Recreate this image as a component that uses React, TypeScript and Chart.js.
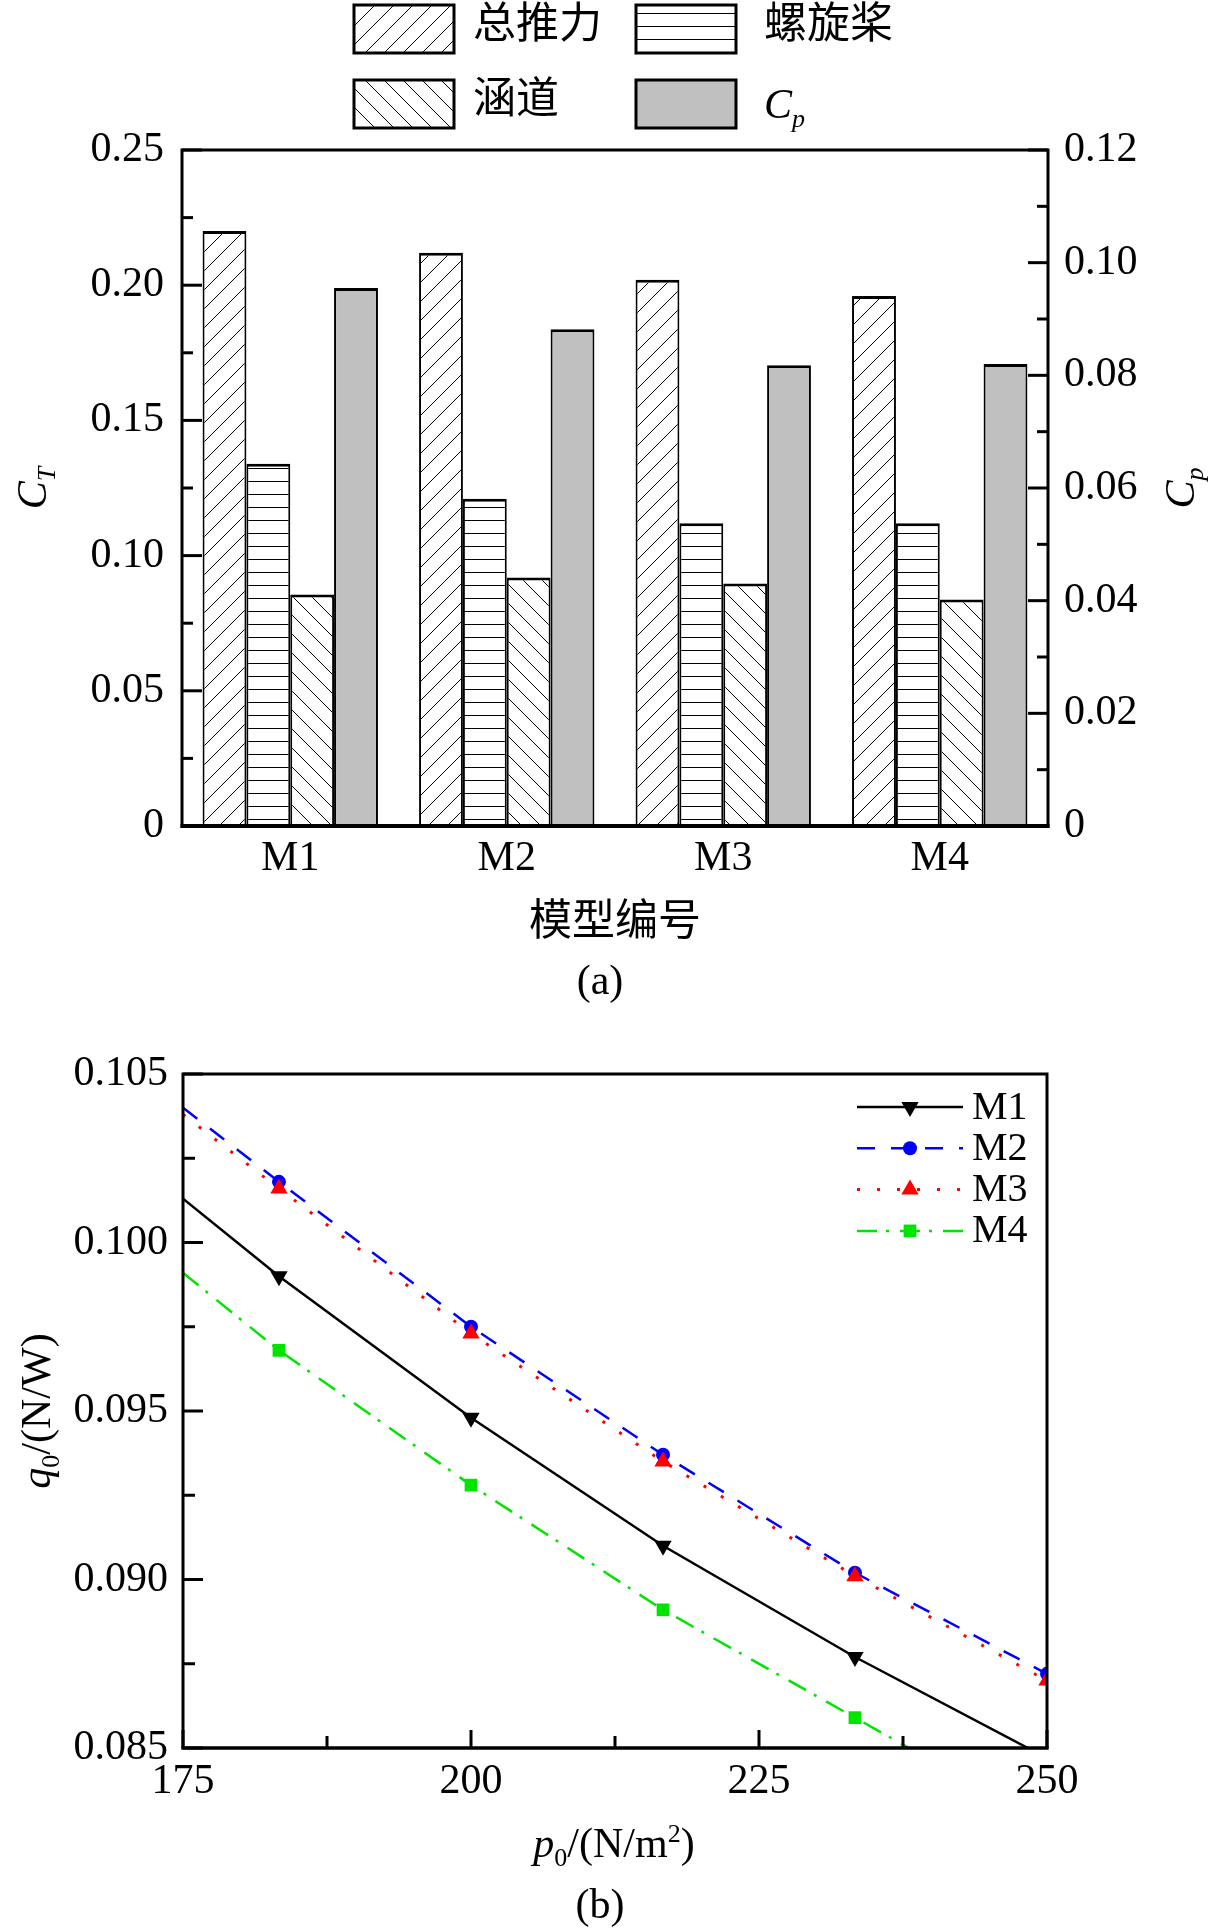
import React, { useEffect, useRef } from 'react';
import { Chart, registerables } from 'chart.js';

Chart.register(...registerables);

const FONT = '"Liberation Serif", "Times New Roman", "Noto Sans CJK SC", serif';

// ---- (a) thrust and power coefficients per model ----
const MODELS = ['M1', 'M2', 'M3', 'M4'];
const CT_TOTAL = [0.22, 0.212, 0.202, 0.196];
const CT_PROP = [0.134, 0.121, 0.112, 0.112];
const CT_DUCT = [0.0856, 0.0919, 0.0897, 0.0838];
const CP = [0.0955, 0.0882, 0.0818, 0.082];

const CT_TICKS = [0, 0.05, 0.1, 0.15, 0.2, 0.25];
const CT_LABELS = ['0', '0.05', '0.10', '0.15', '0.20', '0.25'];
const CT_MINOR = [0.025, 0.075, 0.125, 0.175, 0.225];
const CP_TICKS = [0, 0.02, 0.04, 0.06, 0.08, 0.1, 0.12];
const CP_LABELS = ['0', '0.02', '0.04', '0.06', '0.08', '0.10', '0.12'];
const CP_MINOR = [0.01, 0.03, 0.05, 0.07, 0.09, 0.11];

// ---- (b) q0 against p0 ----
const P0 = [175, 183.33, 200, 216.67, 233.33, 250];
const Q_M1 = [0.1013, 0.099, 0.0948, 0.091, 0.0877, 0.0847];
const Q_M2 = [0.104, 0.1018, 0.0975, 0.0937, 0.0902, 0.0872];
const Q_M3 = [0.1038, 0.1016, 0.0973, 0.0935, 0.0901, 0.087];
const Q_M4 = [0.0991, 0.0968, 0.0928, 0.0891, 0.0859, 0.0827];

const P_TICKS = [175, 200, 225, 250];
const P_LABELS = ['175', '200', '225', '250'];
const P_MINOR = [187.5, 212.5, 237.5];
const Q_TICKS = [0.085, 0.09, 0.095, 0.1, 0.105];
const Q_LABELS = ['0.085', '0.090', '0.095', '0.100', '0.105'];
const Q_MINOR = [0.0875, 0.0925, 0.0975, 0.1025];

type Run = { t: string; it?: boolean; sub?: boolean; sup?: boolean };

function drawRich(ctx: CanvasRenderingContext2D, runs: Run[], x: number, y: number, size: number, rot = 0, align = 'center') {
  ctx.save();
  ctx.translate(x, y);
  ctx.rotate(rot);
  ctx.fillStyle = '#000';
  ctx.textAlign = 'left';
  ctx.textBaseline = 'alphabetic';
  const font = (r: Run) => `${r.it ? 'italic ' : ''}${r.sub || r.sup ? Math.round(size * 0.62) : size}px ${FONT}`;
  let total = 0;
  const ws = runs.map((r) => {
    ctx.font = font(r);
    const w = ctx.measureText(r.t).width;
    total += w;
    return w;
  });
  let cx = align === 'center' ? -total / 2 : 0;
  runs.forEach((r, i) => {
    ctx.font = font(r);
    const dy = r.sub ? size * 0.22 : r.sup ? -size * 0.36 : 0;
    ctx.fillText(r.t, cx, size * 0.33 + dy);
    cx += ws[i];
  });
  ctx.restore();
}

function hatch(kind: string): any {
  const c = document.createElement('canvas');
  const s = kind === 'horiz' ? 13 : 19;
  c.width = kind === 'horiz' ? 8 : s;
  c.height = s;
  const g = c.getContext('2d');
  if (!g) return '#fff';
  g.fillStyle = '#fff';
  g.fillRect(0, 0, c.width, c.height);
  g.strokeStyle = '#000';
  g.lineWidth = 1;
  g.beginPath();
  if (kind === 'horiz') {
    g.moveTo(0, 0.5);
    g.lineTo(c.width, 0.5);
  } else {
    for (const k of [-s, 0, s]) {
      if (kind === 'fwd') {
        g.moveTo(k, s);
        g.lineTo(k + s, 0);
      } else {
        g.moveTo(k, 0);
        g.lineTo(k + s, s);
      }
    }
  }
  g.stroke();
  return g.createPattern(c, 'repeat') || '#fff';
}

function drawMarker(ctx: CanvasRenderingContext2D, style: string, rotDeg: number, x: number, y: number, r: number, color: string) {
  ctx.fillStyle = color;
  ctx.beginPath();
  if (style === 'circle') {
    ctx.arc(x, y, r, 0, Math.PI * 2);
  } else if (style === 'rect') {
    const s = r * Math.SQRT1_2;
    ctx.rect(x - s, y - s, 2 * s, 2 * s);
  } else {
    let a = (rotDeg * Math.PI) / 180;
    for (let k = 0; k < 3; k++) {
      const px = x + Math.sin(a) * r;
      const py = y - Math.cos(a) * r;
      if (k === 0) ctx.moveTo(px, py);
      else ctx.lineTo(px, py);
      a += (2 * Math.PI) / 3;
    }
    ctx.closePath();
  }
  ctx.fill();
}

type TickSpec = { id: string; side: string; major: number[]; minor: number[]; majorLen: number; minorLen: number };

// inward tick marks plus the closed frame round the plot area
function frameTicks(specs: TickSpec[], bottomWidth: number) {
  return {
    id: 'frameTicks',
    afterDatasetsDraw(chart: any) {
      const { ctx, chartArea: a } = chart;
      ctx.save();
      ctx.strokeStyle = '#000';
      ctx.lineWidth = 3;
      for (const s of specs) {
        const scale = chart.scales[s.id];
        const put = (v: number, len: number) => {
          const p = scale.getPixelForValue(v);
          ctx.beginPath();
          if (s.side === 'left') {
            ctx.moveTo(a.left, p);
            ctx.lineTo(a.left + len, p);
          } else if (s.side === 'right') {
            ctx.moveTo(a.right, p);
            ctx.lineTo(a.right - len, p);
          } else {
            ctx.moveTo(p, a.bottom);
            ctx.lineTo(p, a.bottom - len);
          }
          ctx.stroke();
        };
        s.major.forEach((v) => put(v, s.majorLen));
        s.minor.forEach((v) => put(v, s.minorLen));
      }
      ctx.strokeRect(a.left, a.top, a.right - a.left, a.bottom - a.top);
      ctx.lineWidth = bottomWidth;
      ctx.beginPath();
      ctx.moveTo(a.left - 1.5, a.bottom);
      ctx.lineTo(a.right + 1.5, a.bottom);
      ctx.stroke();
      ctx.restore();
    },
  };
}

const tickFont = { family: FONT, size: 42 };

const BarPanel: React.FC = () => {
  const ref = useRef<HTMLCanvasElement | null>(null);

  useEffect(() => {
    if (!ref.current) return;
    const fills = [hatch('fwd'), hatch('horiz'), hatch('back'), '#c0c0c0'];

    const barLegend = {
      id: 'barLegend',
      afterDraw(chart: any) {
        const ctx = chart.ctx;
        const boxX = [354, 636];
        const boxY = [5, 80];
        const textX = [473, 764];
        chart.data.datasets.forEach((ds: any, i: number) => {
          const col = i % 2;
          const row = Math.floor(i / 2);
          ctx.save();
          ctx.fillStyle = ds.backgroundColor;
          ctx.fillRect(boxX[col], boxY[row], 100, 48);
          ctx.strokeStyle = '#000';
          ctx.lineWidth = 3;
          ctx.strokeRect(boxX[col], boxY[row], 100, 48);
          ctx.restore();
          const cy = boxY[row] + 24;
          if (ds.label === 'Cp') {
            drawRich(ctx, [{ t: 'C', it: true }, { t: 'p', it: true, sub: true }], textX[col], cy, 42, 0, 'left');
          } else {
            ctx.save();
            ctx.fillStyle = '#000';
            ctx.font = `43px ${FONT}`;
            ctx.textBaseline = 'middle';
            ctx.fillText(ds.label, textX[col], cy - 2);
            ctx.restore();
          }
        });
        // axis titles and panel tag
        drawRich(ctx, [{ t: 'C', it: true }, { t: 'T', it: true, sub: true }], 32, 488, 42, -Math.PI / 2);
        drawRich(ctx, [{ t: 'C', it: true }, { t: 'p', it: true, sub: true }], 1180, 488, 42, -Math.PI / 2);
        drawRich(ctx, [{ t: '模型编号' }], 615, 921, 43);
        drawRich(ctx, [{ t: '(a)' }], 600, 980, 42);
      },
    };

    const common = { borderColor: '#000', borderWidth: { top: 3, left: 2, right: 2, bottom: 0 }, categoryPercentage: 0.81, barPercentage: 1 };

    const chart = new Chart(ref.current, {
      type: 'bar',
      data: {
        labels: MODELS,
        datasets: [
          { label: '总推力', data: CT_TOTAL, yAxisID: 'y', backgroundColor: fills[0], ...common },
          { label: '螺旋桨', data: CT_PROP, yAxisID: 'y', backgroundColor: fills[1], ...common },
          { label: '涵道', data: CT_DUCT, yAxisID: 'y', backgroundColor: fills[2], ...common },
          { label: 'Cp', data: CP, yAxisID: 'y1', backgroundColor: fills[3], ...common },
        ] as any,
      },
      options: {
        responsive: false,
        animation: false,
        events: [],
        layout: { padding: { top: 150, left: 0, right: 0, bottom: 0 } },
        plugins: { legend: { display: false }, tooltip: { enabled: false } },
        scales: {
          x: {
            type: 'category',
            grid: { display: false, drawTicks: false },
            border: { display: false },
            ticks: { color: '#000', font: tickFont, padding: 8 },
            afterFit: (s: any) => {
              s.height = 184;
            },
          },
          y: {
            position: 'left',
            min: 0,
            max: 0.25,
            grid: { display: false, drawTicks: false },
            border: { display: false },
            afterBuildTicks: (s: any) => {
              s.ticks = CT_TICKS.map((v) => ({ value: v }));
            },
            ticks: { color: '#000', font: tickFont, padding: 18, callback: (_v: any, i: number) => CT_LABELS[i] },
            afterFit: (s: any) => {
              s.width = 182;
            },
          },
          y1: {
            position: 'right',
            min: 0,
            max: 0.12,
            grid: { display: false, drawTicks: false },
            border: { display: false },
            afterBuildTicks: (s: any) => {
              s.ticks = CP_TICKS.map((v) => ({ value: v }));
            },
            ticks: { color: '#000', font: tickFont, padding: 16, callback: (_v: any, i: number) => CP_LABELS[i] },
            afterFit: (s: any) => {
              s.width = 165;
            },
          },
        },
      } as any,
      plugins: [
        frameTicks(
          [
            { id: 'y', side: 'left', major: CT_TICKS, minor: CT_MINOR, majorLen: 20, minorLen: 11 },
            { id: 'y1', side: 'right', major: CP_TICKS, minor: CP_MINOR, majorLen: 20, minorLen: 11 },
          ],
          4
        ),
        barLegend,
      ],
    });

    return () => chart.destroy();
  }, []);

  return <canvas ref={ref} width={1213} height={1010} style={{ position: 'absolute', left: 0, top: 0, width: 1213, height: 1010 }} />;
};

const LinePanel: React.FC = () => {
  const ref = useRef<HTMLCanvasElement | null>(null);

  useEffect(() => {
    if (!ref.current) return;

    const lineLegend = {
      id: 'lineLegend',
      afterDraw(chart: any) {
        const ctx = chart.ctx;
        chart.data.datasets.forEach((ds: any, i: number) => {
          const y = 97 + i * 41.3;
          ctx.save();
          ctx.strokeStyle = ds.borderColor;
          ctx.lineWidth = ds.borderWidth;
          ctx.setLineDash(ds.borderDash || []);
          ctx.beginPath();
          ctx.moveTo(857, y);
          ctx.lineTo(963, y);
          ctx.stroke();
          ctx.setLineDash([]);
          drawMarker(ctx, ds.pointStyle, ds.pointRotation || 0, 910, y, ds.legendRadius, ds.backgroundColor);
          ctx.fillStyle = '#000';
          ctx.font = `40px ${FONT}`;
          ctx.textBaseline = 'middle';
          ctx.fillText(ds.label, 972, y + 1);
          ctx.restore();
        });
        drawRich(ctx, [{ t: 'q', it: true }, { t: '0', sub: true }, { t: '/(N/W)' }], 36, 401, 42, -Math.PI / 2);
        drawRich(ctx, [{ t: 'p', it: true }, { t: '0', sub: true }, { t: '/(N/m' }, { t: '2', sup: true }, { t: ')' }], 614, 833, 42);
        drawRich(ctx, [{ t: '(b)' }], 600, 894, 42);
      },
    };

    const series = (vals: number[]) => P0.map((x, i) => ({ x, y: vals[i] }));
    const radii = (r: number) => P0.map((_, i) => (i === 0 ? 0 : r));

    const chart = new Chart(ref.current, {
      type: 'line',
      data: {
        datasets: [
          { label: 'M1', data: series(Q_M1), borderColor: '#000', backgroundColor: '#000', borderWidth: 2.5, borderDash: [], pointStyle: 'triangle', pointRotation: 180, pointRadius: radii(10), legendRadius: 10, order: 0 },
          { label: 'M2', data: series(Q_M2), borderColor: '#0000ff', backgroundColor: '#0000ff', borderWidth: 2.5, borderDash: [18, 16], pointStyle: 'circle', pointRadius: radii(7), legendRadius: 7, order: 2 },
          { label: 'M3', data: series(Q_M3), borderColor: '#ff0000', backgroundColor: '#ff0000', borderWidth: 3, borderDash: [3, 17], pointStyle: 'triangle', pointRotation: 0, pointRadius: radii(10), legendRadius: 10, order: 1 },
          { label: 'M4', data: series(Q_M4), borderColor: '#00e400', backgroundColor: '#00e400', borderWidth: 2.5, borderDash: [20, 9, 3, 11], pointStyle: 'rect', pointRadius: radii(9), legendRadius: 9, order: 0 },
        ].map((d) => ({ ...d, pointBorderWidth: 0, tension: 0, fill: false, clip: 0 })) as any,
      },
      options: {
        responsive: false,
        animation: false,
        events: [],
        layout: { padding: { top: 64, left: 0, right: 166, bottom: 0 } },
        plugins: { legend: { display: false }, tooltip: { enabled: false } },
        scales: {
          x: {
            type: 'linear',
            min: 175,
            max: 250,
            grid: { display: false, drawTicks: false },
            border: { display: false },
            afterBuildTicks: (s: any) => {
              s.ticks = P_TICKS.map((v) => ({ value: v }));
            },
            ticks: { color: '#000', font: tickFont, padding: 9, maxRotation: 0, callback: (_v: any, i: number) => P_LABELS[i] },
            afterFit: (s: any) => {
              s.height = 183;
            },
          },
          y: {
            type: 'linear',
            min: 0.085,
            max: 0.105,
            grid: { display: false, drawTicks: false },
            border: { display: false },
            afterBuildTicks: (s: any) => {
              s.ticks = Q_TICKS.map((v) => ({ value: v }));
            },
            ticks: { color: '#000', font: tickFont, padding: 15, callback: (_v: any, i: number) => Q_LABELS[i] },
            afterFit: (s: any) => {
              s.width = 183;
            },
          },
        },
      } as any,
      plugins: [
        frameTicks(
          [
            { id: 'y', side: 'left', major: Q_TICKS, minor: Q_MINOR, majorLen: 20, minorLen: 12 },
            { id: 'x', side: 'bottom', major: P_TICKS, minor: P_MINOR, majorLen: 18, minorLen: 12 },
          ],
          3
        ),
        lineLegend,
      ],
    });

    return () => chart.destroy();
  }, []);

  return <canvas ref={ref} width={1213} height={921} style={{ position: 'absolute', left: 0, top: 1010, width: 1213, height: 921 }} />;
};

export default function App() {
  return (
    <div style={{ position: 'absolute', left: 0, top: 0, width: 1213, height: 1931, background: '#fff' }}>
      <BarPanel />
      <LinePanel />
    </div>
  );
}
